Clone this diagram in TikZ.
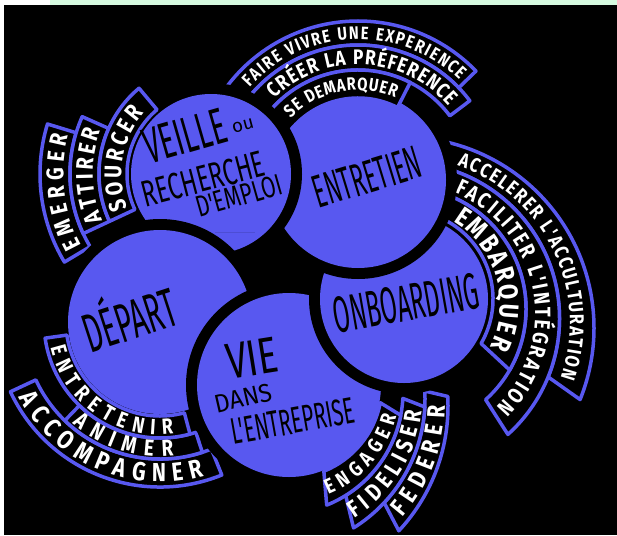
\documentclass[tikz,border=0pt]{standalone}
\usepackage{fontspec}
\usepackage{graphicx}
\usetikzlibrary{calc,decorations.text}
\newfontfamily\bandfont[FakeStretch=0.82]{Fira Sans}
\newfontfamily\labfont{Fira Sans}
\definecolor{blu}{RGB}{88,88,240}
\definecolor{mint}{RGB}{214,250,224}
\newcommand{\bsz}[1]{\bandfont\bfseries\fontsize{#1}{#1}\selectfont}
% disc with black ring: cx cy r
\newcommand{\mkdisc}[3]{\fill[black] (#1,-#2) circle[radius=#3+11];\fill[blu] (#1,-#2) circle[radius=#3];}
% band: inner centre/radius, outer centre/radius, angles
\newcommand{\mkband}[8]{\draw[bandline] ($(#4,-#5)+(#7:#6)$) arc[start angle=#7,end angle=#8,radius=#6]
    -- ($(#1,-#2)+(#8:#3)$) arc[start angle=#8,end angle=#7,radius=#3] -- cycle;}
% text on band: cx cy R a1 a2 size raise text
\newcommand{\mktext}[8]{\path[decorate,decoration={text along path,text align={fit to path},raise=#7pt,text color=white,
    text={|\bsz{#6}|#8}}] ($(#1,-#2)+(#4:#3)$) arc[start angle=#4,end angle=#5,radius=#3];}
\tikzset{bandline/.style={fill=black,draw=blu,line width=3.5pt,line join=round},
  lab/.style={inner sep=0pt,text=black,font=\labfont}}
\begin{document}
\begin{tikzpicture}[x=1pt,y=1pt]
\useasboundingbox (0,0) rectangle (617,-535);
\fill[white] (0,0) rectangle (617,-535);
\fill[mint] (50,0) rectangle (617,-5);
\fill[black] (4,-5) rectangle (617,-535);
% ---- Veille
\mkdisc{211}{174}{80}
\mkband{211}{174}{141}{211}{174}{171}{163}{211}
\mkband{211}{174}{112}{211}{174}{141}{156}{205}
\mkband{211}{174}{84}{211}{174}{112}{130}{205}
\mktext{211}{174}{98}{202}{138}{24}{-8.3}{SOURCER}
\mktext{211}{174}{126.5}{203}{159}{24}{-8.3}{ATTIRER}
\mktext{211}{174}{156}{209}{165}{24}{-8.3}{EMERGER}
% ---- Depart
\mkdisc{160}{322}{92}
\mkband{160}{322}{137}{160}{322}{165}{205}{292}
\mkband{160}{322}{116}{160}{322}{137}{226}{288}
\mkband{160}{322}{94}{160}{322}{116}{188}{285}
\mktext{160}{322}{105}{193}{277}{22}{-7.6}{ENTRETENIR}
\mktext{160}{322}{126.5}{229}{276}{23}{-7.9}{ANIMER}
\mktext{160}{322}{151}{208}{286}{26}{-9}{ACCOMPAGNER}
% ---- Vie
\mkdisc{289}{385}{92}
\mkband{273}{399}{152}{265}{406}{183}{-43}{3}
\mkband{281}{392}{122}{273}{399}{152}{-58}{-3}
\mkband{289}{385}{93}{281}{392}{122}{-68}{-11}
\mktext{285}{388.5}{107.5}{-68}{-14}{21}{-7.2}{ENGAGER}
\mktext{277}{395.5}{137}{-58}{-6}{24}{-8.3}{FIDELISER}
\mktext{269}{402.5}{167.5}{-41}{-1}{25}{-8.6}{FEDERER}
% ---- Onboarding
\mkdisc{404}{299}{84}
\mkband{403.5}{318.5}{156}{403}{328}{191}{88}{-22}
\mkband{404}{309}{122}{403.5}{318.5}{156}{88}{-48}
\mkband{404}{299}{89}{404}{309}{122}{88}{-30}
\mktext{404}{304}{105.5}{59}{-26}{27}{-9.3}{EMBARQUER}
\mktext{403.75}{313.75}{139}{67}{-45}{22}{-7.6}{FACILITER L'INTÉGRATION}
\mktext{403.25}{323.25}{173.5}{71}{-19}{20}{-6.9}{ACCELERER L'ACCULTURATION}
% ---- Entretien
\mkdisc{358}{180}{88}
\mkband{358}{185}{140}{358}{185}{164}{150}{44}
\mkband{358}{185}{115}{358}{185}{140}{150}{37}
\mkband{358}{185}{87}{358}{185}{115}{150}{63}
\mktext{358}{185}{152}{138}{46}{18}{-6.2}{FAIRE VIVRE UNE EXPERIENCE}
\mktext{358}{185}{127.5}{134}{41}{21}{-7.2}{CRÉER LA PRÉFERENCE}
\mktext{358}{185}{101}{135}{67}{18}{-6.2}{SE DEMARQUER}
% ---- Veille again, in front of Entretien
\begin{scope}
\clip (215,0) -- (420,0) -- (420,-262) -- (255,-262) -- (255,-232) -- (215,-232) -- cycle;
\mkdisc{211}{174}{80}
\end{scope}
% ---- labels
\node[lab,rotate=16] (tveille) at (185,-136) {\resizebox{84pt}{35pt}{VEILLE}};
\node[lab,rotate=15] (tou) at (243,-126) {\resizebox{22pt}{10pt}{ou}};
\node[lab,rotate=14.6] (trech) at (203,-179) {\resizebox{126pt}{26pt}{RECHERCHE}};
\node[lab,rotate=15.8] (templ) at (239,-196) {\resizebox{88pt}{21pt}{D'EMPLOI}};
\node[lab,rotate=17] (tentr) at (367,-177) {\resizebox{111pt}{32pt}{ENTRETIEN}};
\node[lab,rotate=10] (tonb) at (406,-303) {\resizebox{147pt}{36pt}{ONBOARDING}};
\node[lab,rotate=18] (tdep) at (128,-315) {\resizebox{95pt}{50pt}{DÉPART}};
\node[lab,rotate=9] (tvie) at (252,-358) {\resizebox{52pt}{35pt}{VIE}};
\node[lab,rotate=13] (tdans) at (243,-398) {\resizebox{58pt}{18pt}{DANS}};
\node[lab,rotate=10] (tlent) at (293,-421) {\resizebox{125pt}{26pt}{L'ENTREPRISE}};
\end{tikzpicture}
\end{document}
